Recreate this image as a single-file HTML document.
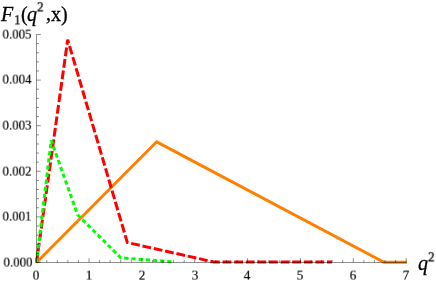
<!DOCTYPE html>
<html><head><meta charset="utf-8">
<style>
html,body{margin:0;padding:0;background:#fff;}
body{width:436px;height:282px;overflow:hidden;position:relative;font-family:"Liberation Serif",serif;color:#000;}
svg{position:absolute;left:0;top:0;}
.t{-webkit-text-stroke:0.18px #000;will-change:transform;position:absolute;white-space:nowrap;line-height:1;font-size:14px;}
.g{font-size:20px;-webkit-text-stroke:0.3px #000;}
.s{font-size:14px;-webkit-text-stroke:0.3px #000;transform-origin:0 100%;transform:scale(0.93,0.9);}
.yl{left:0;width:31.6px;text-align:right;transform-origin:100% 50%;transform:scale(0.92,0.9);}
.xl{top:268.7px;width:20px;text-align:center;transform-origin:50% 50%;transform:scale(0.92,0.9);}
</style></head><body>
<svg width="436" height="282" viewBox="0 0 436 282">
<polyline fill="none" stroke="#ff8000" stroke-width="3" stroke-linejoin="miter" points="36.5,262.5 156.7,141.8 384,262.3 406.9,262.3"/>
<polyline fill="none" stroke="#ff0000" stroke-width="3" stroke-dasharray="8.8,2.8" stroke-dashoffset="0.5" points="36.5,262.5 67.7,39.7 127.3,242.5 213,261.8"/>
<polyline fill="none" stroke="#ff0000" stroke-width="2.8" stroke-dasharray="8.8,2.8" stroke-dashoffset="2" points="213,262 331.9,262"/>
<polyline fill="none" stroke="#00ff00" stroke-width="3" stroke-dasharray="4.3,2.9" stroke-dashoffset="0.1" points="36.5,262.5 51.2,140.4 77.6,214.8 120.8,257.8 172.2,261.8"/>
<path d="M36.1 262.5H406.3M36.5 262.5V34.3M36.15 262.5v-4.3M46.72 262.5v-2.5M57.29 262.5v-2.5M67.87 262.5v-2.5M78.44 262.5v-2.5M89.01 262.5v-4.3M99.58 262.5v-2.5M110.15 262.5v-2.5M120.73 262.5v-2.5M131.30 262.5v-2.5M141.87 262.5v-4.3M152.44 262.5v-2.5M163.01 262.5v-2.5M173.59 262.5v-2.5M184.16 262.5v-2.5M194.73 262.5v-4.3M205.30 262.5v-2.5M215.87 262.5v-2.5M226.45 262.5v-2.5M237.02 262.5v-2.5M247.59 262.5v-4.3M258.16 262.5v-2.5M268.73 262.5v-2.5M279.31 262.5v-2.5M289.88 262.5v-2.5M300.45 262.5v-4.3M311.02 262.5v-2.5M321.59 262.5v-2.5M332.17 262.5v-2.5M342.74 262.5v-2.5M353.31 262.5v-4.3M363.88 262.5v-2.5M374.45 262.5v-2.5M385.03 262.5v-2.5M395.60 262.5v-2.5M406.17 262.5v-4.3M36.5 262.50h4.3M36.5 253.38h2.5M36.5 244.26h2.5M36.5 235.14h2.5M36.5 226.02h2.5M36.5 216.90h4.3M36.5 207.78h2.5M36.5 198.66h2.5M36.5 189.54h2.5M36.5 180.42h2.5M36.5 171.30h4.3M36.5 162.18h2.5M36.5 153.06h2.5M36.5 143.94h2.5M36.5 134.82h2.5M36.5 125.70h4.3M36.5 116.58h2.5M36.5 107.46h2.5M36.5 98.34h2.5M36.5 89.22h2.5M36.5 80.10h4.3M36.5 70.98h2.5M36.5 61.86h2.5M36.5 52.74h2.5M36.5 43.62h2.5M36.5 34.50h4.3" stroke="#000" stroke-opacity="0.62" stroke-width="0.7" fill="none"/>
</svg>
<div class="t g" style="left:1px;top:3.8px;font-style:italic">F</div>
<div class="t s" style="left:13.6px;top:12.6px">1</div>
<div class="t g" style="left:21px;top:3.5px">(</div>
<div class="t g" style="left:27px;top:3.8px;font-style:italic">q</div>
<div class="t s" style="left:37.4px;top:0.3px">2</div>
<div class="t g" style="left:45.9px;top:3.4px">,</div>
<div class="t g" style="left:50.8px;top:3.8px">x</div>
<div class="t g" style="left:61px;top:3.5px">)</div>
<div class="t g" style="left:417.9px;top:252.8px;font-style:italic">q</div>
<div class="t s" style="left:427.8px;top:250.4px">2</div>
<div class="t yl" style="top:256.30px;left:1px">0.000</div>
<div class="t yl" style="top:210.20px;left:0px">0.001</div>
<div class="t yl" style="top:164.60px;left:0px">0.002</div>
<div class="t yl" style="top:119.00px;left:0px">0.003</div>
<div class="t yl" style="top:73.40px;left:0px">0.004</div>
<div class="t yl" style="top:27.80px;left:0px">0.005</div>
<div class="t xl" style="left:26.10px">0</div>
<div class="t xl" style="left:78.96px">1</div>
<div class="t xl" style="left:131.82px">2</div>
<div class="t xl" style="left:184.68px">3</div>
<div class="t xl" style="left:236.54px">4</div>
<div class="t xl" style="left:290.40px">5</div>
<div class="t xl" style="left:343.26px">6</div>
<div class="t xl" style="left:396.12px">7</div>
</body></html>
